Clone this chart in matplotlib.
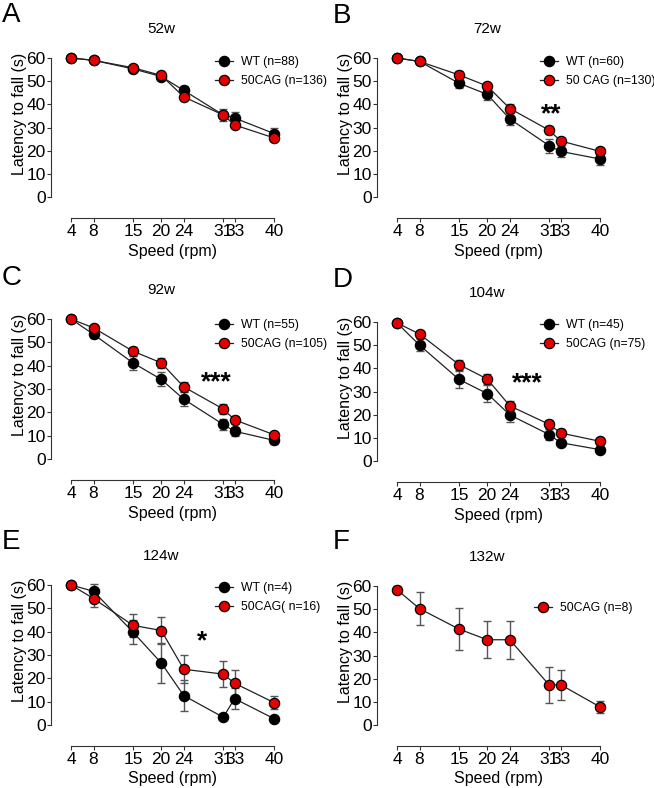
import matplotlib
matplotlib.use("Agg")
import matplotlib.pyplot as plt

plt.rcParams['font.family'] = ['Liberation Sans', 'DejaVu Sans']

speeds = [4, 8, 15, 20, 24, 31, 33, 40]
speed_labels = ["4", "8", "15", "20", "24", "31", "33", "40"]
y_ticks = [0, 10, 20, 30, 40, 50, 60]

# Panel A (52w)
a_wt = [60, 59, 55.3, 52, 46, 35.4, 34.1, 27.4]
a_wt_err = [0.5, 0.8, 1, 1.2, 2, 2.5, 2.5, 2.5]
a_cag = [60, 59, 55.8, 52.5, 43.2, 35.4, 31.1, 25.5]
a_cag_err = [0.5, 0.7, 0.8, 1, 1.5, 1.5, 1.5, 1.5]

# Panel B (72w)
b_wt = [60, 58.5, 49.1, 44.3, 33.7, 22.1, 19.7, 16.4]
b_wt_err = [0.5, 0.8, 2, 2.5, 2.5, 3, 2.5, 2.5]
b_cag = [60, 58.5, 52.7, 47.9, 38.2, 28.8, 24.2, 19.7]
b_cag_err = [0.5, 0.7, 1.5, 1.5, 1.8, 1.8, 1.8, 1.5]

# Panel C (92w)
c_wt = [60, 53.4, 41.2, 34.1, 25.6, 14.8, 11.9, 8.0]
c_wt_err = [0.5, 1.5, 3, 3, 3, 2.5, 2, 1.5]
c_cag = [60, 56.2, 46.2, 41.2, 30.9, 21.4, 16.8, 10.4]
c_cag_err = [0.5, 1.2, 2, 2, 2, 2, 1.8, 1.2]

# Panel D (104w)
d_wt = [59.6, 50.0, 35.2, 29.1, 19.9, 11.4, 7.9, 4.9]
d_wt_err = [0.8, 2.5, 3.5, 3.5, 3, 2.5, 1, 1]
d_cag = [59.6, 54.8, 41.6, 35.4, 23.8, 15.8, 12.1, 8.5]
d_cag_err = [0.8, 1.5, 2.2, 2.2, 2, 2, 1.8, 1.5]

# Panel E (124w)
e_wt = [60, 57.3, 39.8, 26.6, 12.6, 3.3, 11.3, 2.7]
e_wt_err = [0.3, 3, 5, 8.5, 6.5, 0.3, 4.5, 0.5]
e_cag = [60, 54.2, 42.7, 40.5, 23.9, 21.8, 17.9, 9.6]
e_cag_err = [0.3, 3.5, 5, 5.7, 6, 5.5, 5.5, 2.7]

# Panel F (132w)
f_cag = [58.4, 50.2, 41.4, 36.8, 36.8, 17.2, 17.4, 7.8]
f_cag_err = [1.5, 7, 9, 8, 8.3, 7.8, 6.5, 2.7]

panels = [
    dict(letter="A", title="52w", wt=a_wt, wt_err=a_wt_err, cag=a_cag, cag_err=a_cag_err,
         wt_label="WT (n=88)", cag_label="50CAG (n=136)", star=None),
    dict(letter="B", title="72w", wt=b_wt, wt_err=b_wt_err, cag=b_cag, cag_err=b_cag_err,
         wt_label="WT (n=60)", cag_label="50 CAG (n=130)", star=("**", 31.3, 37.6)),
    dict(letter="C", title="92w", wt=c_wt, wt_err=c_wt_err, cag=c_cag, cag_err=c_cag_err,
         wt_label="WT (n=55)", cag_label="50CAG (n=105)", star=("***", 29.7, 34.7)),
    dict(letter="D", title="104w", wt=d_wt, wt_err=d_wt_err, cag=d_cag, cag_err=d_cag_err,
         wt_label="WT (n=45)", cag_label="50CAG (n=75)", star=("***", 27.1, 35.5)),
    dict(letter="E", title="124w", wt=e_wt, wt_err=e_wt_err, cag=e_cag, cag_err=e_cag_err,
         wt_label="WT (n=4)", cag_label="50CAG( n=16)", star=("*", 27.3, 37.7)),
    dict(letter="F", title="132w", wt=None, wt_err=None, cag=f_cag, cag_err=f_cag_err,
         wt_label=None, cag_label="50CAG (n=8)", star=None),
]

W, H = 654, 788
fig = plt.figure(figsize=(W / 100, H / 100), dpi=100)

# layout in pixels: (axes left, y of value 0, y of value 60, xlabel top offset)
geo = [(51, 197, 58, 47), (377, 197, 58, 47), (51, 459, 319, 47), (377, 461, 322, 47),
       (51, 725, 585, 46), (377, 725, 586, 46)]
legend_anchor = [(0.683, 1.015), (0.679, 1.015), (0.683, 1.0), (0.679, 1.022), (0.683, 1.022), (0.654, 0.886)]
letter_pos = [(2, 22), (333, 23), (2, 285), (333, 287), (2, 549), (333, 549)]

ax_w = 240
px_per_unit = 5.64
RED = '#e50000'
ERR = '#555555'
LINE = '#222222'

for p, (left, y0, y60, xl_off), anc, lp in zip(panels, geo, legend_anchor, letter_pos):
    h = y0 - y60
    ax = fig.add_axes([left / W, 1 - y0 / H, ax_w / W, h / H])
    xmin = 4 - 20 / px_per_unit
    ax.set_xlim(xmin, xmin + ax_w / px_per_unit)
    ax.set_ylim(0, 60)

    handles = []
    series = []
    if p["wt"] is not None:
        series.append((p["wt"], p["wt_err"], 'black', p["wt_label"]))
    series.append((p["cag"], p["cag_err"], RED, p["cag_label"]))
    for vals, err, col, lab in series:
        ax.errorbar(speeds, vals, yerr=err, fmt='none', ecolor=ERR, elinewidth=1.0,
                    capsize=2.8, capthick=1.0, clip_on=False, zorder=2)
        ln, = ax.plot(speeds, vals, '-', color=LINE, lw=0.9, marker='o', markersize=7.4,
                      markerfacecolor=col, markeredgecolor='black', markeredgewidth=0.9,
                      clip_on=False, zorder=3, label=lab)
        handles.append(ln)

    ax.legend(handles=handles, loc='upper left', bbox_to_anchor=anc, frameon=False,
              fontsize=8.8, handlelength=1.5, handletextpad=0.6, labelspacing=0.58,
              borderpad=0, borderaxespad=0)

    for s in ['top', 'right']:
        ax.spines[s].set_visible(False)
    for s in ['left', 'bottom']:
        ax.spines[s].set_color('#333333')
        ax.spines[s].set_linewidth(0.8)
    ax.spines['left'].set_bounds(0, 60)
    ax.spines['bottom'].set_bounds(4, 40)
    ax.spines['bottom'].set_position(('outward', 21 * 0.72))

    ax.set_xticks(speeds)
    ax.set_xticklabels(speed_labels)
    ax.set_yticks(y_ticks)
    ax.tick_params(axis='both', direction='out', length=3, width=0.8, color='#333333',
                   labelsize=12.5, labelcolor='black')
    ax.tick_params(axis='y', pad=0.8)
    ax.tick_params(axis='x', pad=1.5)

    ax.set_ylabel("Latency to fall (s)", fontsize=11.5)
    ax.yaxis.set_label_coords(-24 / ax_w, 0.60)
    ax.set_xlabel("Speed (rpm)", fontsize=11.5)
    ax.xaxis.set_label_coords(0.508, -xl_off / h)

    ax.text(20, 72.5, p["title"], ha='center', va='center', fontsize=11)
    if p["star"] is not None:
        s, sx, sy = p["star"]
        ax.text(sx, sy - 1.8, s, ha='center', va='center', fontsize=19, fontweight='bold')

    fig.text(lp[0] / W, 1 - lp[1] / H, p["letter"], fontsize=20, ha='left', va='baseline')

fig.savefig("out.png", dpi=100)
